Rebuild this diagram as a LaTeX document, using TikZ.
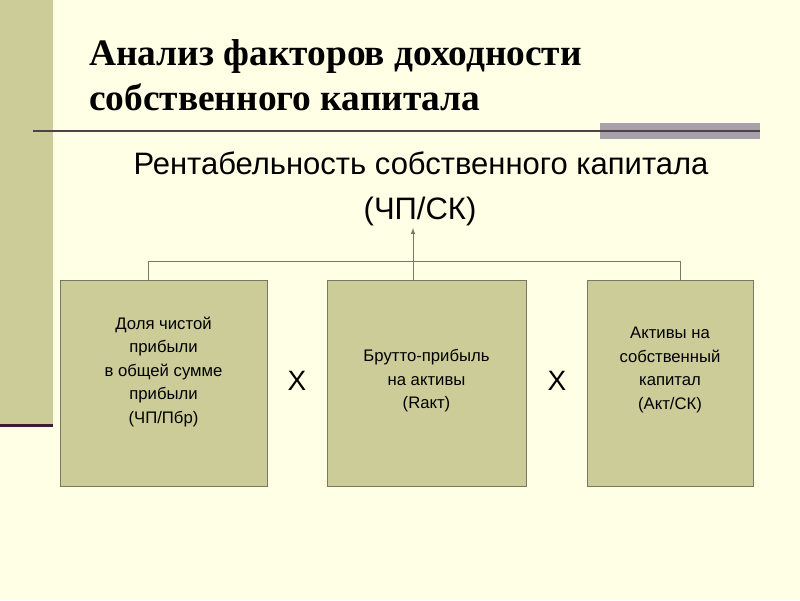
\documentclass[tikz,border=0pt]{standalone}
\usepackage{fontspec}
\setmainfont{Liberation Serif}
\setsansfont{Liberation Sans}
\usetikzlibrary{calc}

\definecolor{slidebg}{RGB}{255,255,229}
\definecolor{bandcol}{RGB}{204,204,153}
\definecolor{edgecol}{RGB}{120,120,100}
\definecolor{plum}{RGB}{64,24,56}
\definecolor{barcol}{RGB}{168,160,170}
\definecolor{rulecol}{RGB}{80,64,72}

\begin{document}
\begin{tikzpicture}[x=1pt, y=-1pt,
    factor/.style={draw=edgecol, fill=bandcol, line width=1pt, inner sep=0pt},
    factortext/.style={align=center, font=\sffamily\fontsize{16.7}{23.5}\selectfont},
    link/.style={draw=edgecol, line width=1pt}]
    \useasboundingbox (0,0) rectangle (800,600);
    \fill[slidebg] (0,0) rectangle (800,600);

    % slide decoration
    \fill[bandcol] (0,0) rectangle (53,427);
    \draw[plum, line width=3pt] (0,425.5) -- (53,425.5);
    \fill[barcol] (600,123) rectangle (760,139);
    \draw[rulecol, line width=1.5pt] (33,131) -- (760,131);

    \node (title_a) at (89,65) [anchor=base west, inner sep=0pt]
        {\fontsize{37.4}{45}\selectfont\bfseries Анализ факторов доходности};
    \node (title_b) at (89,110) [anchor=base west, inner sep=0pt]
        {\fontsize{37.4}{45}\selectfont\bfseries собственного капитала};

    \node (roe) at (421,174) [anchor=base, inner sep=0pt]
        {\sffamily\fontsize{31}{36}\selectfont Рентабельность собственного капитала};
    \node (roe_formula) at (420,219) [anchor=base, inner sep=0pt]
        {\sffamily\fontsize{31}{36}\selectfont (ЧП/СК)};

    % factors
    \node (net_share) at (163.5,383) [factor, minimum width=207pt, minimum height=206pt] {};
    \node (gross_return) at (426.5,383) [factor, minimum width=199pt, minimum height=206pt] {};
    \node (equity_mult) at (670,383) [factor, minimum width=166pt, minimum height=206pt] {};

    \node at ($(net_share)+(0,-11)$) [factortext]
        {Доля чистой\\прибыли\\в общей сумме\\прибыли\\(ЧП/Пбр)};
    \node at ($(gross_return)+(0,-2)$) [factortext]
        {Брутто-прибыль\\на активы\\(Rакт)};
    \node at ($(equity_mult)+(0,-13)$) [factortext]
        {Активы на\\собственный\\капитал\\(Акт/СК)};

    \node (times_a) at (297,381) {\sffamily\fontsize{28}{32}\selectfont X};
    \node (times_b) at (557,381) {\sffamily\fontsize{28}{32}\selectfont X};

    % connectors
    \coordinate (bus_left) at (148,261);
    \coordinate (bus_right) at (680,261);
    \coordinate (arrow_tip) at (413,228);
    \draw[link] (net_share.north -| bus_left) -- (bus_left) -- (bus_right)
        -- (equity_mult.north -| bus_right);
    \draw[link, -latex] (gross_return.north -| arrow_tip) -- (arrow_tip);
\end{tikzpicture}
\end{document}
